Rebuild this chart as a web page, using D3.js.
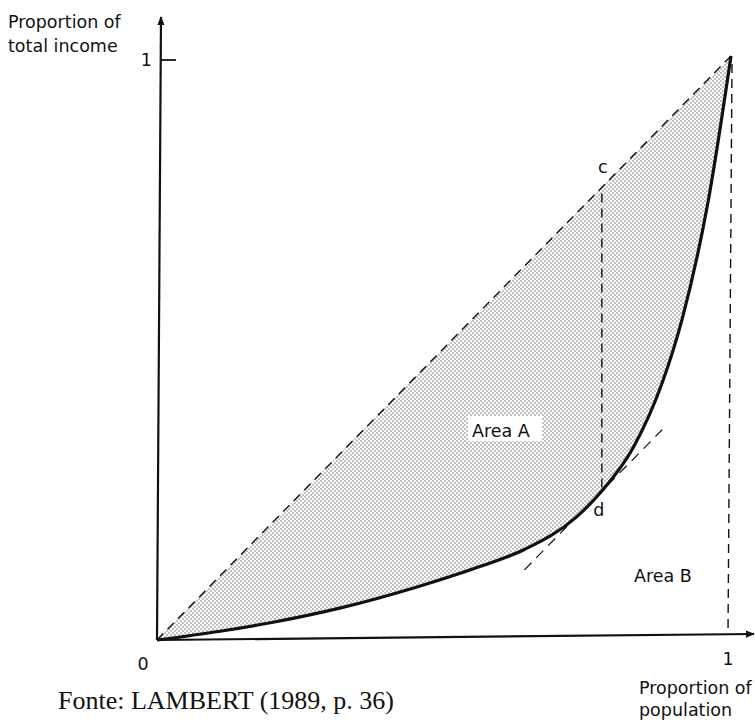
<!DOCTYPE html>
<html>
<head>
<meta charset="utf-8">
<script src="https://cdn.jsdelivr.net/npm/d3@7"></script>
<style>
    body { margin: 0; background: #fff; }
    .lbl { font-family: "DejaVu Sans", sans-serif; font-size: 17.5px; fill: #111; }
    .src { font-family: "Liberation Serif", serif; font-size: 26px; fill: #111; }
</style>
</head>
<body>
<div class="chartDiv"></div>
<script>
// #region Data
// Lorenz curve (proportion of population, proportion of income)
let lorenzX = [0, 0.11, 0.2, 0.32, 0.45, 0.56, 0.64, 0.73, 0.775, 0.83, 0.88, 0.915, 0.96, 1];
let lorenzY = [0, 0.015, 0.03, 0.055, 0.09, 0.125, 0.155, 0.21, 0.255, 0.33, 0.44, 0.55, 0.75, 1];
let pointC = { x: 0.775, y: 0.775 };
let pointD = { x: 0.775, y: 0.255 };
let tangentX = [0.64, 0.88];
let xTickLabels = ['0', '1'];
let yTickLabels = ['1'];
// #endregion

let width = 755, height = 722;
let svg = d3.select('.chartDiv').append('svg')
    .attr('width', width)
    .attr('height', height);

let xScale = d3.scaleLinear().domain([0, 1]).range([157, 731]);
let yScale = d3.scaleLinear().domain([0, 1]).range([640, 56]);

let lorenz = lorenzX.map((d, i) => ({ x: d, y: lorenzY[i] }));

// #region Pattern
let defs = svg.append('defs');
let pat = defs.append('pattern')
    .attr('id', 'dots')
    .attr('width', 4)
    .attr('height', 4)
    .attr('patternUnits', 'userSpaceOnUse');
pat.append('circle').attr('cx', 1).attr('cy', 1).attr('r', 0.75).attr('fill', '#666');
pat.append('circle').attr('cx', 3).attr('cy', 3).attr('r', 0.75).attr('fill', '#666');

defs.append('marker')
    .attr('id', 'arrow')
    .attr('viewBox', '0 0 10 10')
    .attr('refX', 9).attr('refY', 5)
    .attr('markerWidth', 9).attr('markerHeight', 9)
    .attr('markerUnits', 'userSpaceOnUse')
    .attr('orient', 'auto')
    .append('path')
    .attr('d', 'M0,1 L10,5 L0,9 Z')
    .attr('fill', '#111');
// #endregion

// #region Shaded area A
let curveLine = d3.line()
    .x(d => xScale(d.x))
    .y(d => yScale(d.y))
    .curve(d3.curveMonotoneX);
let shade = 'M' + xScale(0) + ',' + yScale(0) + ' L' + xScale(1) + ',' + yScale(1) + ' ' +
    curveLine(lorenz.slice().reverse()).slice(1) + 'Z';
svg.append('path')
    .attr('d', shade)
    .attr('fill', 'url(#dots)')
    .attr('stroke', 'none');
// #endregion

// #region Axes
svg.append('line')
    .attr('x1', xScale(0)).attr('y1', yScale(0))
    .attr('x2', xScale(0) + 4).attr('y2', 17)
    .attr('stroke', '#111').attr('stroke-width', 2.2)
    .attr('marker-end', 'url(#arrow)');
svg.append('line')
    .attr('x1', xScale(0)).attr('y1', yScale(0))
    .attr('x2', width - 1).attr('y2', yScale(0) - 6)
    .attr('stroke', '#111').attr('stroke-width', 2.2)
    .attr('marker-end', 'url(#arrow)');

// y tick at 1
svg.append('line')
    .attr('x1', xScale(0) + 4).attr('y1', yScale(1) + 4)
    .attr('x2', xScale(0) + 19).attr('y2', yScale(1) + 4)
    .attr('stroke', '#111').attr('stroke-width', 1.8);
svg.append('text').attr('class', 'lbl')
    .attr('x', xScale(0) - 5).attr('y', yScale(1) + 10)
    .attr('text-anchor', 'end')
    .text(yTickLabels[0]);

svg.selectAll('.xTick')
    .data(xTickLabels)
    .enter()
    .append('text')
    .attr('class', 'lbl xTick')
    .attr('x', (d, i) => xScale(+d) + (i == 0 ? -14 : -3))
    .attr('y', (d, i) => yScale(0) + (i == 0 ? 30 : 25))
    .attr('text-anchor', 'middle')
    .text(d => d);

svg.append('text').attr('class', 'lbl')
    .attr('x', 8).attr('y', 28)
    .text('Proportion of');
svg.append('text').attr('class', 'lbl')
    .attr('x', 8).attr('y', 52)
    .text('total income');

svg.append('text').attr('class', 'lbl')
    .attr('x', 639).attr('y', 694)
    .text('Proportion of');
svg.append('text').attr('class', 'lbl')
    .attr('x', 639).attr('y', 716)
    .text('population');
// #endregion

// #region Dashed lines
let dash = '9,6';
// line of equality
svg.append('line')
    .attr('x1', xScale(0)).attr('y1', yScale(0))
    .attr('x2', xScale(1)).attr('y2', yScale(1))
    .attr('stroke', '#111').attr('stroke-width', 1.4)
    .attr('stroke-dasharray', dash);
// vertical at x = 1
svg.append('line')
    .attr('x1', xScale(1) + 1).attr('y1', yScale(1) + 8)
    .attr('x2', xScale(1) - 3).attr('y2', yScale(0) - 6)
    .attr('stroke', '#111').attr('stroke-width', 1.4)
    .attr('stroke-dasharray', dash);
// c - d
svg.append('line')
    .attr('x1', xScale(pointC.x)).attr('y1', yScale(pointC.y) + 6)
    .attr('x2', xScale(pointD.x)).attr('y2', yScale(pointD.y))
    .attr('stroke', '#111').attr('stroke-width', 1.4)
    .attr('stroke-dasharray', dash);
// tangent at d, parallel to line of equality
svg.append('line')
    .attr('x1', xScale(tangentX[0])).attr('y1', yScale(pointD.y + (tangentX[0] - pointD.x)))
    .attr('x2', xScale(tangentX[1])).attr('y2', yScale(pointD.y + (tangentX[1] - pointD.x)))
    .attr('stroke', '#111').attr('stroke-width', 1.2)
    .attr('stroke-dasharray', '10,7');
// #endregion

// #region Lorenz curve
svg.append('path')
    .attr('d', curveLine(lorenz))
    .attr('fill', 'none')
    .attr('stroke', '#111')
    .attr('stroke-width', 3.2);
// #endregion

// #region Labels
svg.append('text').attr('class', 'lbl')
    .attr('x', xScale(pointC.x) + 1).attr('y', yScale(pointC.y) - 14)
    .attr('text-anchor', 'middle')
    .text('c');
svg.append('text').attr('class', 'lbl')
    .attr('x', xScale(pointD.x) - 3).attr('y', yScale(pointD.y) + 25)
    .attr('text-anchor', 'middle')
    .text('d');
svg.append('rect')
    .attr('x', 468).attr('y', 416).attr('width', 74).attr('height', 25)
    .attr('fill', '#fff');
svg.append('text').attr('class', 'lbl')
    .attr('x', 472).attr('y', 437)
    .text('Area A');
svg.append('text').attr('class', 'lbl')
    .attr('x', 634).attr('y', 582)
    .text('Area B');

svg.append('text').attr('class', 'src')
    .attr('x', 58).attr('y', 709)
    .text('Fonte: LAMBERT (1989, p. 36)');
// #endregion
</script>
</body>
</html>
